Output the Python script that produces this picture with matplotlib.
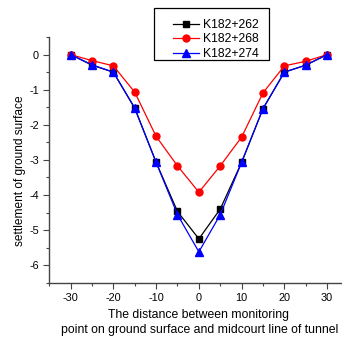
import matplotlib
matplotlib.use("Agg")
import matplotlib.pyplot as plt
from matplotlib.patches import Rectangle

plt.rcParams['font.family'] = ['Liberation Sans', 'DejaVu Sans']
plt.rcParams['axes.unicode_minus'] = False

# distanza dal centro (m)
dist = [-30, -25, -20, -15, -10, -5, 0, 5, 10, 15, 20, 25, 30]
k262 = [0, -0.30, -0.50, -1.53, -3.07, -4.47, -5.25, -4.40, -3.07, -1.54, -0.50, -0.30, 0]
k268 = [0, -0.17, -0.32, -1.07, -2.33, -3.17, -3.92, -3.17, -2.35, -1.09, -0.32, -0.19, 0]
k274 = [0, -0.29, -0.50, -1.52, -3.07, -4.56, -5.62, -4.56, -3.07, -1.54, -0.50, -0.30, 0]

fig = plt.figure(figsize=(3.42, 3.37), dpi=100)
ax = fig.add_axes([0.144, 0.161, 0.875, 0.729])

ax.plot(dist, k262, color='black', marker='s', markersize=4.5, linewidth=0.9, label='K182+262')
ax.plot(dist, k268, color='red', marker='o', markersize=5, linewidth=0.9, label='K182+268')
ax.plot(dist, k274, color='blue', marker='^', markersize=5.5, linewidth=0.9, label='K182+274')

ax.set_xlim(-35, 35)
ax.set_ylim(-6.5, 0.5)
ax.set_xticks([-30, -20, -10, 0, 10, 20, 30])
ax.set_xticks(range(-35, 36, 5), minor=True)
ax.set_yticks([0, -1, -2, -3, -4, -5, -6])
ax.set_yticks([0.5 - 0.5 * i for i in range(15)], minor=True)

for s in ['top', 'right']:
    ax.spines[s].set_visible(False)
for s in ['left', 'bottom']:
    ax.spines[s].set_color('#444444')
    ax.spines[s].set_linewidth(1.0)

ax.tick_params(which='major', direction='out', length=4, width=0.8, labelsize=7.8, colors='#444444', pad=3.5)
ax.tick_params(which='minor', direction='out', length=2.5, width=0.8, colors='#444444')
ax.tick_params(labelcolor='black')

fig.text(0.058, 0.494, 'settlement of ground surface', rotation=90, ha='center', va='center', fontsize=8.6)
fig.text(0.579, 0.066, 'The distance between monitoring', ha='center', va='center', fontsize=8.8)
fig.text(0.583, 0.020, 'point on ground surface and midcourt line of tunnel', ha='center', va='center', fontsize=8.8)

# cornice legenda
fig.patches.append(Rectangle((154 / 342, 1 - 60 / 337), 115 / 342, 51.7 / 337,
                             transform=fig.transFigure, fill=False, edgecolor='black', linewidth=0.9))
leg = ax.legend(loc='upper left', bbox_to_anchor=(172.7 / 342, 1 - 19 / 337), bbox_transform=fig.transFigure,
                fontsize=8.8, frameon=False, handlelength=2.18, borderpad=0, labelspacing=0.2,
                handletextpad=0.33, borderaxespad=0)

plt.savefig('out.png', dpi=100)
